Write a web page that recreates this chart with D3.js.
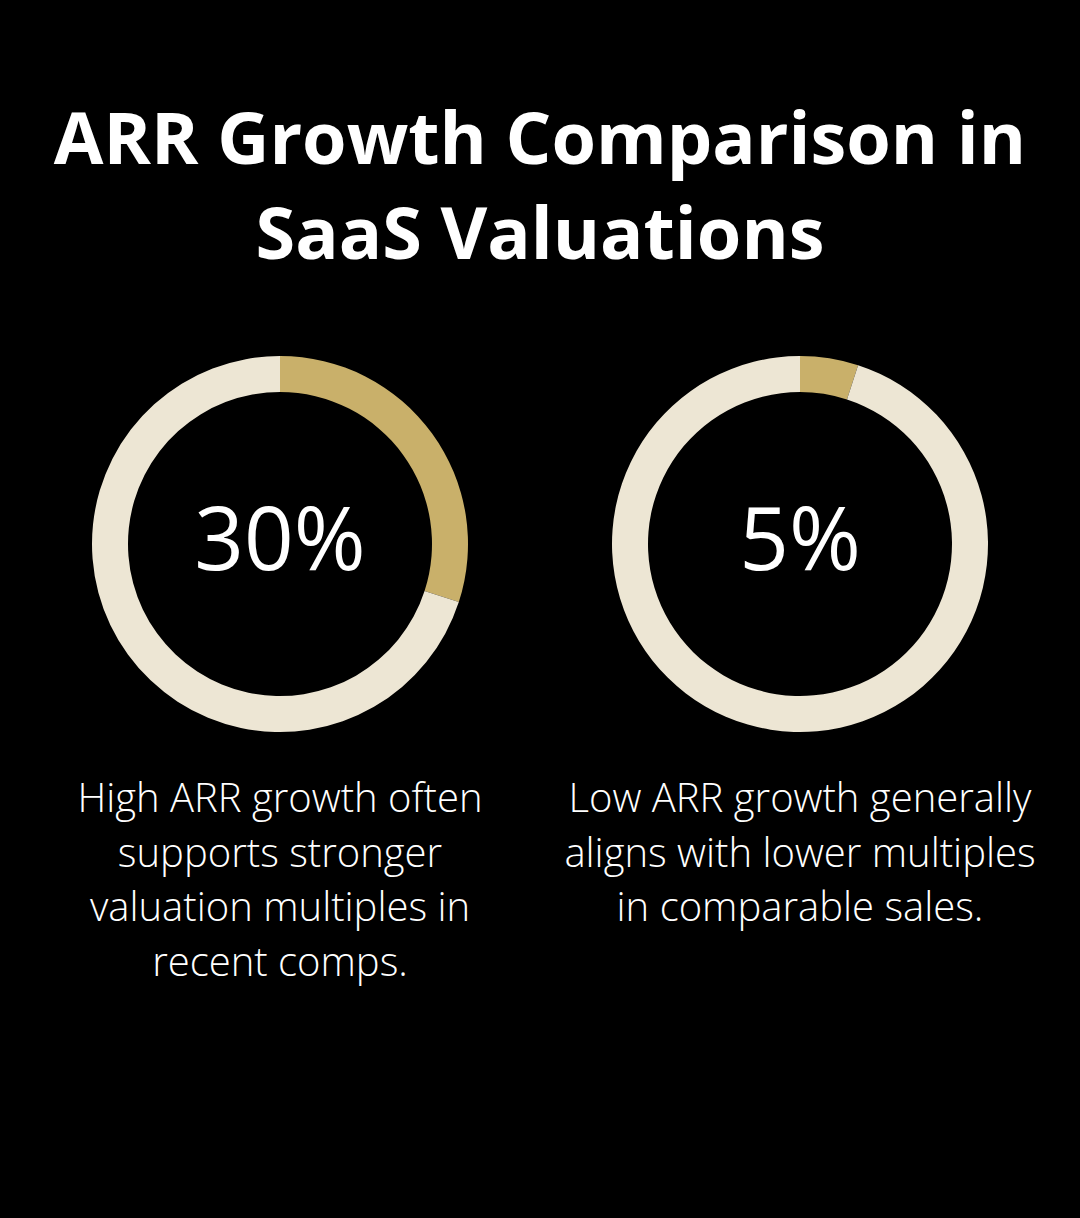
<!DOCTYPE html>
<html>
<head>
<meta charset="utf-8">
<script src="https://cdn.jsdelivr.net/npm/d3@7"></script>
<style>
  html, body { margin: 0; padding: 0; background: #000; }
  svg { display: block; }
</style>
</head>
<body>
<script>
const titleLines = ["ARR Growth Comparison in", "SaaS Valuations"];
const categories = ["High ARR growth", "Low ARR growth"];
const values = [30, 5];
const valueLabels = ["30%", "5%"];
const descriptions = [
  ["High ARR growth often", "supports stronger", "valuation multiples in", "recent comps."],
  ["Low ARR growth generally", "aligns with lower multiples", "in comparable sales."]
];

const W = 1080, H = 1218;
const gold = "#c9b06a", cream = "#ede6d4";

const svg = d3.select("body").append("svg")
  .attr("width", W).attr("height", H)
  .style("background", "#000");

svg.append("rect").attr("width", W).attr("height", H).attr("fill", "#000");

// Title
svg.append("g").selectAll("text")
  .data(titleLines).join("text")
  .attr("x", W / 2)
  .attr("y", (d, i) => 164 + i * 95)
  .attr("text-anchor", "middle")
  .attr("fill", "#fff")
  .attr("font-family", "'Open Sans', sans-serif")
  .attr("font-weight", 700)
  .attr("font-size", 72)
  .text(d => d);

const x = d3.scalePoint().domain(categories).range([280, 800]);
const cy = 544;
const outerR = 188, innerR = 152;

const arc = d3.arc().innerRadius(innerR).outerRadius(outerR);
const pie = d3.pie().sort(null).value(d => d);

categories.forEach((cat, i) => {
  const g = svg.append("g").attr("transform", `translate(${x(cat)},${cy})`);
  const arcs = pie([values[i], 100 - values[i]]);
  g.selectAll("path").data(arcs).join("path")
    .attr("d", arc)
    .attr("fill", (d, j) => j === 0 ? gold : cream);
  g.append("text")
    .attr("x", 0).attr("y", 26)
    .attr("text-anchor", "middle")
    .attr("fill", "#fff")
    .attr("font-family", "'Open Sans', sans-serif")
    .attr("font-weight", 400)
    .attr("font-size", 87)
    .text(valueLabels[i]);

  svg.append("g").selectAll("text")
    .data(descriptions[i]).join("text")
    .attr("x", x(cat))
    .attr("y", (d, k) => 812 + k * 54.5)
    .attr("text-anchor", "middle")
    .attr("fill", "#fff")
    .attr("font-family", "'Open Sans', sans-serif")
    .attr("font-weight", 300)
    .attr("font-size", 40)
    .text(d => d);
});
</script>
</body>
</html>
